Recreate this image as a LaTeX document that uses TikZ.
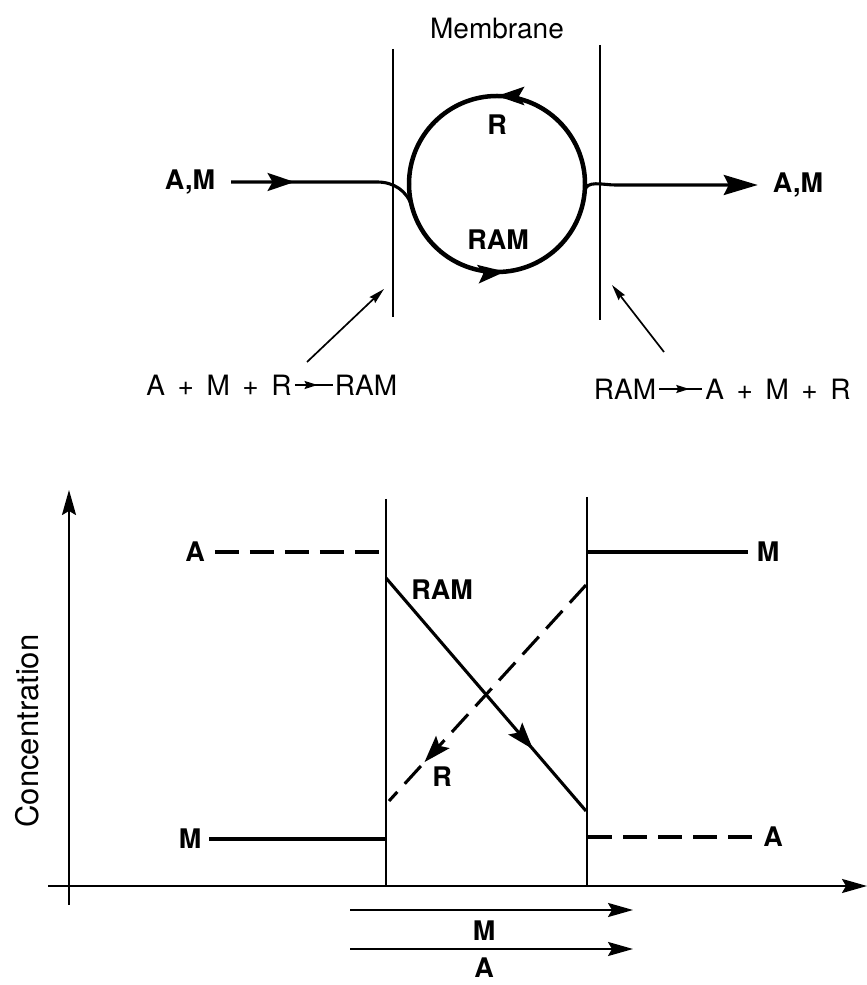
\documentclass[tikz,border=0pt]{standalone}
\usepackage{fontspec}
\setmainfont{TeX Gyre Heros}
\usetikzlibrary{arrows.meta,decorations.markings}
\tikzset{
  lbl/.style={font=\fontsize{27}{32}\selectfont\bfseries, inner sep=0pt},
  txt/.style={font=\fontsize{28}{33}\selectfont, inner sep=0pt},
  wall/.style={line width=2pt},
  flow/.style={line width=3.1pt},
  thinflow/.style={line width=2.3pt},
  dashline/.style={line width=3.1pt, dash pattern=on 24pt off 11pt},
  bigtip/.style={-{Stealth[length=34pt,width=20pt,inset=5pt]}},
  axistip/.style={-{Stealth[length=25pt,width=14pt,inset=4pt]}},
  smalltip/.style={-{Stealth[length=16pt,width=8pt,inset=2pt]}},
  midtip/.style={postaction={decorate, decoration={markings,
      mark=at position #1 with {\arrow{Stealth[length=27pt,width=18pt,inset=5pt]}}}}},
  rxntip/.style={postaction={decorate, decoration={markings,
      mark=at position #1 with {\arrow{Stealth[length=13pt,width=8pt,inset=2pt]}}}}}
}
\begin{document}
\begin{tikzpicture}[x=1pt,y=1pt]
  \useasboundingbox (0,0) rectangle (867,985);

  \node[txt] (memb) at (497,956) {Membrane};
  \coordinate (wLt) at (393,936);
  \coordinate (wLb) at (393,668);
  \coordinate (wRt) at (600,940);
  \coordinate (wRb) at (600,665);
  \draw[wall] (wLt) -- (wLb);
  \draw[wall] (wRt) -- (wRb);

  \coordinate (cyc) at (497,801);
  \draw[line width=4.5pt, midtip=0.5] ([shift={(0:88)}]cyc) arc[start angle=0, end angle=180, radius=88];
  \draw[line width=4.5pt, midtip=0.53] ([shift={(180:88)}]cyc) arc[start angle=180, end angle=360, radius=88];
  \node[lbl] (rTop) at (497,860) {R};
  \node[lbl] (ramTop) at (498,745) {RAM};

  \node[lbl] (amL) at (190,803) {A,M};
  \node[lbl] (amR) at (798,800) {A,M};
  \draw[flow, midtip=0.33] ([xshift=16pt]amL.east) -- (377,803) to[out=0,in=107] ([shift={(195:88)}]cyc);
  \draw[flow, bigtip] ([shift={(-5:88)}]cyc) to[out=85,in=180] (615,800) -- ([xshift=-15pt]amR.west);

  \node[txt] (lhsL) at (219,600) {A\hspace{.45em}+\hspace{.45em}M\hspace{.45em}+\hspace{.45em}R};
  \node[txt] (rhsL) at (366,600) {RAM};
  \draw[line width=1.7pt, rxntip=0.6] ([xshift=3pt]lhsL.east) -- ([xshift=-2pt]rhsL.west);
  \node[txt] (lhsR) at (625,596) {RAM};
  \node[txt] (rhsR) at (778,596) {A\hspace{.45em}+\hspace{.45em}M\hspace{.45em}+\hspace{.45em}R};
  \draw[line width=1.7pt, rxntip=0.7] ([xshift=3pt]lhsR.east) -- ([xshift=-3pt]rhsR.west);

  \coordinate (pLtail) at (307,623);
  \coordinate (pLtip) at (384,696);
  \coordinate (pRtail) at (664,633);
  \coordinate (pRtip) at (612,700);
  \draw[line width=1.7pt, smalltip] (pLtail) -- (pLtip);
  \draw[line width=1.7pt, smalltip] (pRtail) -- (pRtip);

  \coordinate (yb) at (69,80);
  \coordinate (yt) at (69,495);
  \coordinate (xl) at (48,99);
  \coordinate (xr) at (867,99);
  \draw[thinflow, axistip] (yb) -- (yt);
  \draw[thinflow, axistip] (xl) -- (xr);
  \node[txt, font=\fontsize{31}{36}\selectfont, rotate=90] (conc) at (27,254) {Concentration};

  \coordinate (mLt) at (386,486);
  \coordinate (mLb) at (386,99);
  \coordinate (mRt) at (587,488);
  \coordinate (mRb) at (587,99);
  \draw[wall] (mLt) -- (mLb);
  \draw[wall] (mRt) -- (mRb);

  \node[lbl] (aHi) at (195,433) {A};
  \node[lbl] (mHi) at (768,433) {M};
  \node[lbl] (mLo) at (190,146) {M};
  \node[lbl] (aLo) at (773,148) {A};
  \draw[dashline] ([xshift=10pt]aHi.east) -- (386,433);
  \draw[flow] (587,433) -- ([xshift=-9pt]mHi.west);
  \draw[flow] ([xshift=8pt]mLo.east) -- (386,146);
  \draw[dashline] (588,148) -- ([xshift=-6pt]aLo.west);

  \coordinate (ramS) at (386,407);
  \coordinate (ramE) at (586,174);
  \coordinate (rS) at (586,400);
  \coordinate (rE) at (389,184);
  \draw[flow, midtip=0.735] (ramS) -- (ramE);
  \draw[dashline, midtip=0.82] (rS) -- (rE);
  \node[lbl] (ramLo) at (442,395) {RAM};
  \node[lbl] (rLo) at (442,208) {R};

  \coordinate (fMs) at (350,75);
  \coordinate (fMe) at (633,75);
  \coordinate (fAs) at (350,36);
  \coordinate (fAe) at (633,36);
  \draw[thinflow, axistip] (fMs) -- (fMe);
  \draw[thinflow, axistip] (fAs) -- (fAe);
  \node[lbl] (mBot) at (484,54) {M};
  \node[lbl] (aBot) at (484,17) {A};
\end{tikzpicture}
\end{document}
